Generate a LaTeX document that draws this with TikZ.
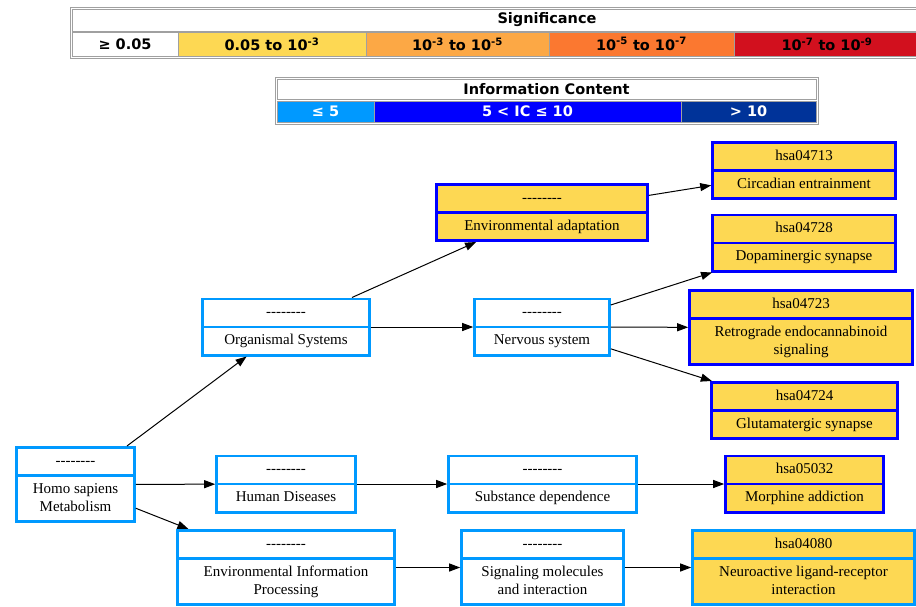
\documentclass[tikz,border=0pt]{standalone}
\usepackage{fontspec}
\usetikzlibrary{shapes.multipart,arrows.meta}
\newfontfamily\recfont{Liberation Serif}
\newfontfamily\legfont{DejaVu Sans}
\newcommand{\noid}{-{}-{}-{}-{}-{}-{}-{}-}
\definecolor{sigyellow}{HTML}{FDD853}
\definecolor{sigorange}{HTML}{FCA845}
\definecolor{sigdorange}{HTML}{FB7830}
\definecolor{sigred}{HTML}{D2101E}
\definecolor{iclight}{HTML}{0099FF}
\definecolor{icblue}{HTML}{0000FF}
\definecolor{icdark}{HTML}{003399}
\definecolor{leggray}{HTML}{A0A0A0}
\begin{document}
\begin{tikzpicture}[x=1pt,y=-1pt,
	legcell/.style={draw=leggray,line width=1pt,inner sep=0pt,outer sep=0pt,font=\legfont\bfseries\fontsize{14.5}{16}\selectfont},
	rec/.style={rectangle split,rectangle split parts=2,line width=2.6pt,align=center,inner xsep=4pt,inner ysep=3.8pt,font=\recfont\fontsize{15}{18}\selectfont},
	lo/.style={rec,draw=iclight,fill=white},
	hi/.style={rec,draw=icblue,fill=sigyellow},
	edge/.style={-{Triangle[length=11pt,width=8pt]},line width=1pt}]
	\useasboundingbox (0,0) rectangle (916,606);
	% significance legend
	\draw [leggray,line width=1pt] (70,7) rectangle (1024,58);
	\node [legcell,minimum width=950,minimum height=22] (sigtitle) at (547,20) {Significance};
	\node [legcell,minimum width=106,minimum height=24] (sig1) at (125,44) {≥ 0.05};
	\node [legcell,fill=sigyellow,minimum width=188,minimum height=24] (sig2) at (272,44) {0.05 to 10\textsuperscript{-3}};
	\node [legcell,fill=sigorange,minimum width=183,minimum height=24] (sig3) at (457.5,44) {10\textsuperscript{-3} to 10\textsuperscript{-5}};
	\node [legcell,fill=sigdorange,minimum width=185,minimum height=24] (sig4) at (641.5,44) {10\textsuperscript{-5} to 10\textsuperscript{-7}};
	\node [legcell,fill=sigred,minimum width=186,minimum height=24] (sig5) at (827,44) {10\textsuperscript{-7} to 10\textsuperscript{-9}};
	% information content legend
	\draw [leggray,line width=1pt] (275,77) rectangle (818,124);
	\node [legcell,minimum width=539,minimum height=20] (ictitle) at (546.5,89) {Information Content};
	\node [legcell,fill=iclight,text=white,minimum width=97,minimum height=21] (ic1) at (325.5,111.5) {≤ 5};
	\node [legcell,fill=icblue,text=white,minimum width=307,minimum height=21] (ic2) at (527.5,111.5) {5 < IC ≤ 10};
	\node [legcell,fill=icdark,text=white,minimum width=135,minimum height=21] (ic3) at (748.5,111.5) {> 10};
	% records
	\node [lo,minimum width=118] (homo) at (75.5,484.5) {\strut\noid\nodepart{two}\strut Homo sapiens\\\strut Metabolism};
	\node [lo,minimum width=167] (org) at (286,327) {\strut\noid\nodepart{two}\strut Organismal Systems};
	\node [lo,minimum width=139] (hdis) at (286,484) {\strut\noid\nodepart{two}\strut Human Diseases};
	\node [lo,minimum width=217] (envinfo) at (286,567.5) {\strut\noid\nodepart{two}\strut Environmental Information\\\strut Processing};
	\node [hi,minimum width=211] (envad) at (542,212.5) {\strut\noid\nodepart{two}\strut Environmental adaptation};
	\node [lo,minimum width=135] (nerv) at (542,327) {\strut\noid\nodepart{two}\strut Nervous system};
	\node [lo,minimum width=188] (subst) at (542.5,484) {\strut\noid\nodepart{two}\strut Substance dependence};
	\node [lo,minimum width=162] (signal) at (542.5,567.5) {\strut\noid\nodepart{two}\strut Signaling molecules\\\strut and interaction};
	\node [hi,minimum width=183] (circ) at (804,170.5) {\strut hsa04713\nodepart{two}\strut Circadian entrainment};
	\node [hi,minimum width=183] (dop) at (804,243) {\strut hsa04728\nodepart{two}\strut Dopaminergic synapse};
	\node [hi,minimum width=223] (retro) at (801,327.5) {\strut hsa04723\nodepart{two}\strut Retrograde endocannabinoid\\\strut signaling};
	\node [hi,minimum width=186] (glut) at (804.5,410.5) {\strut hsa04724\nodepart{two}\strut Glutamatergic synapse};
	\node [hi,minimum width=158] (morph) at (804.5,484) {\strut hsa05032\nodepart{two}\strut Morphine addiction};
	\node [hi,draw=iclight,minimum width=222] (neuro) at (803.5,567.5) {\strut hsa04080\nodepart{two}\strut Neuroactive ligand-receptor\\\strut interaction};
	% connectors
	\draw [edge] (homo) -- (org);
	\draw [edge] (homo) -- (hdis);
	\draw [edge] (homo) -- (envinfo);
	\draw [edge] (org) -- (envad);
	\draw [edge] (org) -- (nerv);
	\draw [edge] (envad) -- (circ);
	\draw [edge] (nerv) -- (dop);
	\draw [edge] (nerv) -- (retro);
	\draw [edge] (nerv) -- (glut);
	\draw [edge] (hdis) -- (subst);
	\draw [edge] (subst) -- (morph);
	\draw [edge] (envinfo) -- (signal);
	\draw [edge] (signal) -- (neuro);
\end{tikzpicture}
\end{document}
